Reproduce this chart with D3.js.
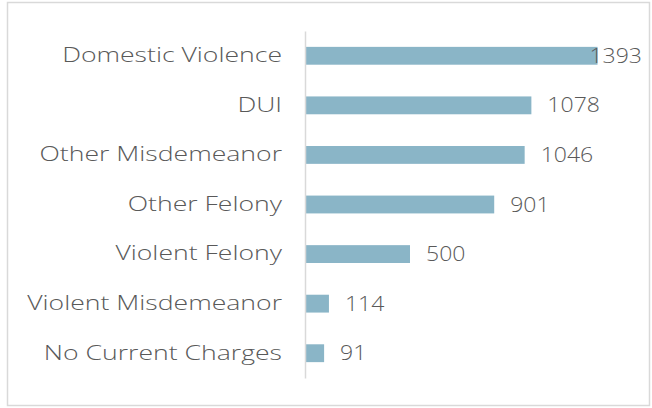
<!DOCTYPE html>
<html><head><meta charset="utf-8">
<script src="https://cdn.jsdelivr.net/npm/d3@7"></script>
<style>body{margin:0;background:#fff}svg{display:block}text{font-family:"Open Sans",sans-serif;font-weight:300}</style>
</head><body>
<svg id="c" width="652" height="408"></svg>
<script>
const categories = ["Domestic Violence","DUI","Other Misdemeanor","Other Felony","Violent Felony","Violent Misdemeanor","No Current Charges"];
const values = [1393,1078,1046,901,500,114,91];

const svg = d3.select("#c");
svg.append("rect").attr("x",7.5).attr("y",2.5).attr("width",642).attr("height",403)
  .attr("fill","#fff").attr("stroke","#d9d9d9").attr("stroke-width",1.5);

const x = d3.scaleLinear().domain([0,1400]).range([305,599]);
const y = d3.scaleBand().domain(categories).range([31,378]).paddingInner(0.64).paddingOuter(0.32);

svg.append("g").selectAll("rect").data(values).join("rect")
  .attr("x", x(0)).attr("y",(d,i)=>y(categories[i]))
  .attr("width", d=>x(d)-x(0)).attr("height", y.bandwidth())
  .attr("fill","#8ab5c7");

const yAxis = svg.append("g").attr("transform",`translate(${x(0)},0)`)
  .call(d3.axisLeft(y).tickSize(0).tickPadding(23));
yAxis.select(".domain").attr("stroke","#d9d9d9").attr("stroke-width",1.5);
yAxis.selectAll("text").attr("font-size",20).attr("fill","#595959")
  .style("font-family",'"Open Sans",sans-serif').style("font-weight",300)
  .each(function(){ const w=this.getComputedTextLength();
    d3.select(this).attr("textLength",w*1.33).attr("lengthAdjust","spacingAndGlyphs"); });

const lbl = svg.append("g").selectAll("text").data(values).join("text")
  .attr("y",(d,i)=>y(categories[i])+y.bandwidth()/2).attr("dy","0.35em")
  .attr("font-size",20).attr("fill","#595959").text(d=>d);
lbl.each(function(d){
  const t=d3.select(this); const w=this.getComputedTextLength()*1.15;
  t.attr("textLength",w).attr("lengthAdjust","spacingAndGlyphs");
  let px = x(d)+16;
  if(px+w>642) px = 642-w;
  t.attr("x",px);
});
</script>
</body></html>
